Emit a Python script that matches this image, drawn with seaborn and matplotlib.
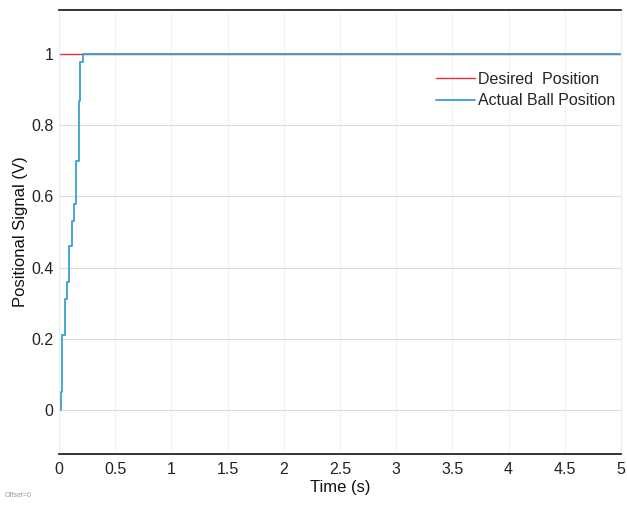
import matplotlib
matplotlib.use("Agg")
import matplotlib.pyplot as plt
import seaborn as sns
import pandas as pd

# Desired position (constant step of 1 V)
desired_time = [0.0, 5.0]
desired_value = [1.0, 1.0]

# Actual ball position (stepwise sensor signal)
actual_time = [0.0, 0.018, 0.027, 0.056, 0.074, 0.089, 0.113, 0.136, 0.154, 0.178, 0.19, 0.21, 5.0]
actual_value = [0.0, 0.05, 0.21, 0.31, 0.36, 0.46, 0.53, 0.58, 0.70, 0.87, 0.98, 1.0, 1.0]

x_ticks = [0, 0.5, 1, 1.5, 2, 2.5, 3, 3.5, 4, 4.5, 5]
x_tick_labels = ["0", "0.5", "1", "1.5", "2", "2.5", "3", "3.5", "4", "4.5", "5"]
y_ticks = [0, 0.2, 0.4, 0.6, 0.8, 1]
y_tick_labels = ["0", "0.2", "0.4", "0.6", "0.8", "1"]

sns.set_theme(style="white")
plt.rcParams["font.family"] = ["Liberation Sans", "DejaVu Sans"]

fig = plt.figure(figsize=(6.27, 5.07), dpi=100)
ax = fig.add_axes([59/627, 1 - 454/507, (621-59)/627, (454-10)/507])

df_des = pd.DataFrame({"t": desired_time, "v": desired_value})
df_act = pd.DataFrame({"t": actual_time, "v": actual_value})

sns.lineplot(data=df_des, x="t", y="v", ax=ax, color="#e0323c", lw=1.0,
             drawstyle="steps-post", label="Desired  Position", estimator=None)
sns.lineplot(data=df_act, x="t", y="v", ax=ax, color="#3a9fd2", lw=1.3,
             drawstyle="steps-post", label="Actual Ball Position", estimator=None)

ax.set_xlim(0, 5)
ax.set_ylim(-0.125, 1.125)
ax.set_xticks(x_ticks)
ax.set_xticklabels(x_tick_labels)
ax.set_yticks(y_ticks)
ax.set_yticklabels(y_tick_labels)
ax.tick_params(axis="x", labelsize=11.5, colors="#222222", length=0, pad=6)
ax.tick_params(axis="y", labelsize=11.5, colors="#222222", length=0, pad=4)

ax.grid(True, axis="y", color="#dddddd", lw=0.8)
ax.grid(True, axis="x", color="#f2f2f2", lw=0.8)

for side in ["top", "bottom"]:
    ax.spines[side].set_color("#111111")
    ax.spines[side].set_linewidth(1.2)
for side in ["left", "right"]:
    ax.spines[side].set_color("#eeeeee")
    ax.spines[side].set_linewidth(0.8)

ax.set_xlabel("Time (s)", fontsize=12, color="#111111", labelpad=2)
ax.set_ylabel("Positional Signal (V)", fontsize=12, color="#111111", labelpad=2)

leg = ax.legend(loc="upper right", bbox_to_anchor=(1.015, 0.893), frameon=False,
                fontsize=11.5, handlelength=2.4, handletextpad=0.2, labelspacing=0.4)

fig.text(5/627, 1 - 497/507, "Offset=0", fontsize=5, color="#999999")

fig.savefig("out.png", dpi=100)
